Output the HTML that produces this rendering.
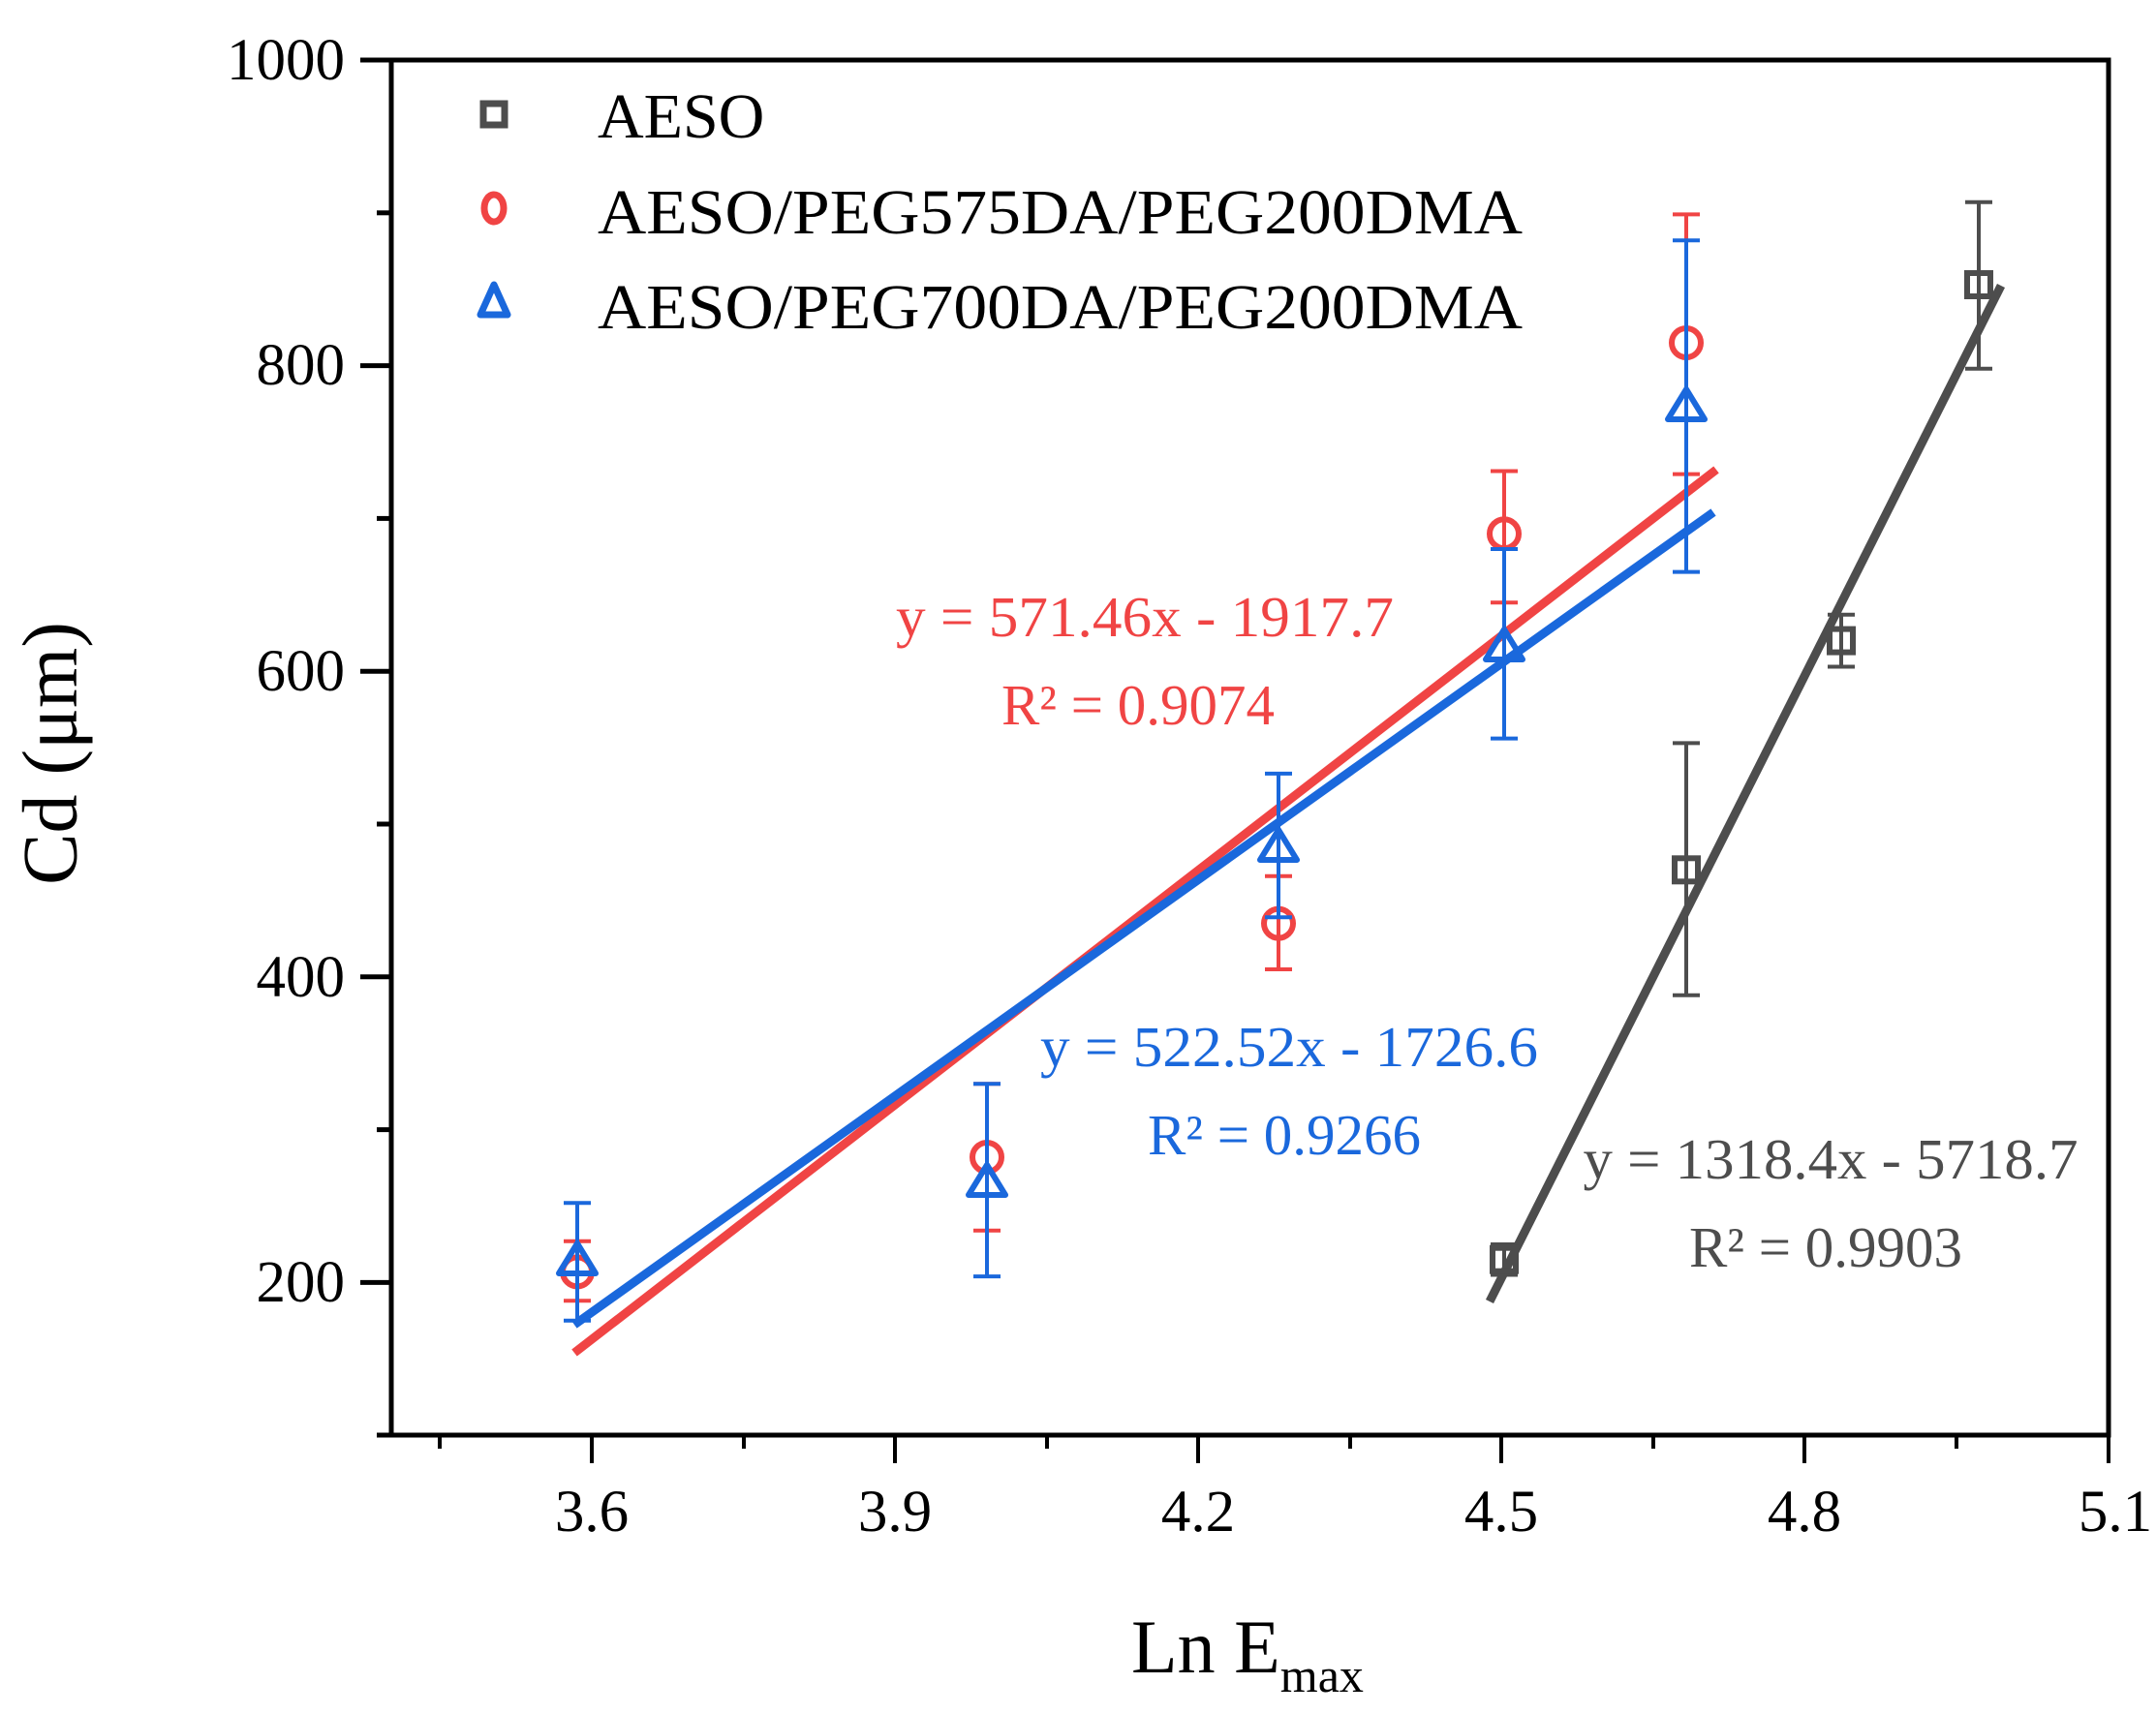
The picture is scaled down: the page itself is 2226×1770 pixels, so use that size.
<!DOCTYPE html>
<html><head><meta charset="utf-8"><style>
html,body{margin:0;padding:0;background:#fff}
svg{display:block}
text{font-family:"Liberation Serif",serif}
</style></head><body>
<svg width="2226" height="1770" viewBox="0 0 2226 1770" xmlns="http://www.w3.org/2000/svg">
<rect width="2226" height="1770" fill="#fff"/>
<rect x="404" y="62" width="1773" height="1420" fill="none" stroke="#000" stroke-width="5"/>
<g stroke="#000" stroke-width="5">
<line x1="372" y1="62" x2="404" y2="62"/>
<line x1="372" y1="377.6" x2="404" y2="377.6"/>
<line x1="372" y1="693.2" x2="404" y2="693.2"/>
<line x1="372" y1="1008.8" x2="404" y2="1008.8"/>
<line x1="372" y1="1324.4" x2="404" y2="1324.4"/>
<line x1="389" y1="219.8" x2="404" y2="219.8"/>
<line x1="389" y1="535.4" x2="404" y2="535.4"/>
<line x1="389" y1="851" x2="404" y2="851"/>
<line x1="389" y1="1166.6" x2="404" y2="1166.6"/>
<line x1="389" y1="1482" x2="404" y2="1482"/>
</g>
<g stroke="#000" stroke-width="4">
<line x1="611" y1="1482" x2="611" y2="1511"/>
<line x1="924" y1="1482" x2="924" y2="1511"/>
<line x1="1237" y1="1482" x2="1237" y2="1511"/>
<line x1="1550" y1="1482" x2="1550" y2="1511"/>
<line x1="1863" y1="1482" x2="1863" y2="1511"/>
<line x1="2177" y1="1482" x2="2177" y2="1511"/>
<line x1="454" y1="1482" x2="454" y2="1496"/>
<line x1="768" y1="1482" x2="768" y2="1496"/>
<line x1="1081" y1="1482" x2="1081" y2="1496"/>
<line x1="1394" y1="1482" x2="1394" y2="1496"/>
<line x1="1707" y1="1482" x2="1707" y2="1496"/>
<line x1="2020" y1="1482" x2="2020" y2="1496"/>
</g>
<g font-size="61" text-anchor="end" fill="#000">
<text x="356" y="82">1000</text>
<text x="356" y="397">800</text>
<text x="356" y="713">600</text>
<text x="356" y="1029">400</text>
<text x="356" y="1344">200</text>
</g>
<g font-size="61" text-anchor="middle" fill="#000">
<text x="611" y="1581">3.6</text>
<text x="924" y="1581">3.9</text>
<text x="1237" y="1581">4.2</text>
<text x="1550" y="1581">4.5</text>
<text x="1863" y="1581">4.8</text>
<text x="2184" y="1581">5.1</text>
</g>
<text x="60" y="778" font-size="80" text-anchor="middle" transform="rotate(-90 60 778)" dominant-baseline="middle">Cd (μm)</text>
<text x="1168" y="1727" font-size="78">Ln E<tspan font-size="50" dy="20">max</tspan></text>

<line x1="593" y1="1397" x2="1772" y2="485" stroke="#f04444" stroke-width="9"/>
<line x1="593" y1="1368" x2="1769" y2="529" stroke="#1a68dc" stroke-width="9"/>
<line x1="1538" y1="1344" x2="2066" y2="295" stroke="#4d4d4d" stroke-width="9"/>

<g stroke="#4d4d4d" stroke-width="4" fill="none">
<path d="M1553 1316.5V1285 M1539 1316.5h28 M1539 1285h28"/>
<path d="M1741 1027.7V767.4 M1727 1027.7h28 M1727 767.4h28"/>
<path d="M1901 688.5V634.8 M1887 688.5h28 M1887 634.8h28"/>
<path d="M2043 380.8V208.8 M2029 380.8h28 M2029 208.8h28"/>
<g stroke-width="6">
<rect x="1541" y="1288.7" width="24" height="24"/>
<rect x="1729" y="886.3" width="24" height="24"/>
<rect x="1889" y="649.6" width="24" height="24"/>
<rect x="2031" y="282" width="24" height="24"/>
</g>
</g>
<g stroke="#f04444" stroke-width="4" fill="none">
<path d="M596 1343.3V1281.8 M582 1343.3h28 M582 1281.8h28"/>
<path d="M1019 1270.7V1119.3 M1005 1270.7h28 M1005 1119.3h28"/>
<path d="M1320 1001V904.7 M1306 1001h28 M1306 904.7h28"/>
<path d="M1553 622.2V486.5 M1539 622.2h28 M1539 486.5h28"/>
<path d="M1741 489.6V221.4 M1727 489.6h28 M1727 221.4h28"/>
<g stroke-width="6">
<circle cx="596" cy="1313.4" r="15"/>
<circle cx="1019" cy="1195" r="15"/>
<circle cx="1320" cy="953.6" r="15"/>
<circle cx="1553" cy="551.2" r="15"/>
<circle cx="1741" cy="354" r="15"/>
</g>
</g>
<g stroke="#1a68dc" stroke-width="4" fill="none">
<path d="M596 1363.8V1242.3 M582 1363.8h28 M582 1242.3h28"/>
<path d="M1019 1318.1V1119.3 M1005 1318.1h28 M1005 1119.3h28"/>
<path d="M1320 947.3V798.9 M1306 947.3h28 M1306 798.9h28"/>
<path d="M1553 762.6V567 M1539 762.6h28 M1539 567h28"/>
<path d="M1741 590.6V248.2 M1727 590.6h28 M1727 248.2h28"/>
<g stroke-width="6" stroke-linejoin="round">
<path d="M596 1284 L615 1315 L577 1315 Z"/>
<path d="M1019 1203 L1038 1234 L1000 1234 Z"/>
<path d="M1320 857 L1339 888 L1301 888 Z"/>
<path d="M1553 650 L1572 681 L1534 681 Z"/>
<path d="M1741 402 L1760 433 L1722 433 Z"/>
</g>
</g>

<rect x="499" y="107" width="22" height="22" fill="none" stroke="#4d4d4d" stroke-width="7"/>
<ellipse cx="510" cy="215" rx="10" ry="14" fill="none" stroke="#f04444" stroke-width="7"/>
<path d="M510 294 L524 325 L496 325 Z" fill="none" stroke="#1a68dc" stroke-width="7" stroke-linejoin="round"/>
<g font-size="66" fill="#000">
<text x="617" y="142">AESO</text>
<text x="617" y="241" textLength="955" lengthAdjust="spacingAndGlyphs">AESO/PEG575DA/PEG200DMA</text>
<text x="617" y="339" textLength="955" lengthAdjust="spacingAndGlyphs">AESO/PEG700DA/PEG200DMA</text>
</g>

<g font-size="59" text-anchor="middle">
<text x="1182" y="657" fill="#f04444" textLength="514" lengthAdjust="spacingAndGlyphs">y = 571.46x - 1917.7</text>
<text x="1175" y="748" fill="#f04444">R² = 0.9074</text>
<text x="1331" y="1101" fill="#1a68dc" textLength="514" lengthAdjust="spacingAndGlyphs">y = 522.52x - 1726.6</text>
<text x="1326" y="1192" fill="#1a68dc">R² = 0.9266</text>
<text x="1890" y="1217" fill="#4d4d4d" textLength="511" lengthAdjust="spacingAndGlyphs">y = 1318.4x - 5718.7</text>
<text x="1885" y="1308" fill="#4d4d4d">R² = 0.9903</text>
</g>
</svg>
</body></html>
